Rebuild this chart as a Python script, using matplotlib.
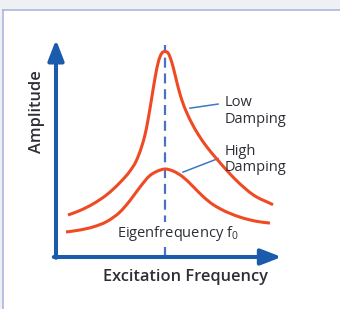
import matplotlib
matplotlib.use("Agg")
import numpy as np
import matplotlib.pyplot as plt
from matplotlib.patches import Rectangle, PathPatch
from matplotlib.path import Path
from matplotlib.lines import Line2D

plt.rcParams['font.family'] = ['Open Sans', 'DejaVu Sans']
plt.rcParams['mathtext.fontset'] = 'custom'
plt.rcParams['mathtext.rm'] = 'Open Sans'
plt.rcParams['mathtext.it'] = 'Open Sans:italic'

# ---- data (frequency ratio f/f0, amplitude in arbitrary units) ----
low_f = [0.110, 0.220, 0.339, 0.468, 0.587, 0.679, 0.734, 0.786, 0.817, 0.847,
         0.878, 0.908, 0.939, 0.970, 1.000, 1.030, 1.061, 1.092, 1.122, 1.153,
         1.199, 1.245, 1.306, 1.383, 1.474, 1.566, 1.658, 1.807, 1.991]
low_a = [1.024, 1.134, 1.293, 1.524, 1.817, 2.098, 2.332, 2.695, 2.985, 3.388,
         3.876, 4.359, 4.761, 4.968, 5.012, 4.968, 4.761, 4.446, 4.124, 3.841,
         3.524, 3.268, 2.985, 2.688, 2.395, 2.115, 1.859, 1.520, 1.276]
high_f = [0.092, 0.220, 0.339, 0.468, 0.587, 0.679, 0.771, 0.862, 0.927, 1.000,
          1.073, 1.165, 1.257, 1.349, 1.440, 1.505, 1.688, 1.844, 1.963]
high_a = [0.610, 0.659, 0.732, 0.868, 1.098, 1.378, 1.707, 1.988, 2.090, 2.146,
          2.098, 1.951, 1.720, 1.476, 1.280, 1.178, 0.973, 0.868, 0.827]
f0 = 1.0
x_label = "Excitation Frequency"
y_label = "Amplitude"
f0_label = "Eigenfrequency f$_\\mathrm{0}$"
low_label = ["Low", "Damping"]
high_label = ["High", "Damping"]

RED = "#ef4a23"
AXBLUE = "#1b5bab"
DASHBLUE = "#4a72c4"
LEADBLUE = "#3b78c6"
TXT = "#2e2e36"


def smooth_path(xs, ys):
    """Piecewise cubic Hermite curve y(x) through the points, as a Bezier path."""
    x = np.asarray(xs, float)
    y = np.asarray(ys, float)
    h = np.diff(x)
    s = np.diff(y) / h
    n = len(x)
    m = np.empty(n)
    m[0], m[-1] = s[0], s[-1]
    for i in range(1, n - 1):
        m[i] = (h[i] * s[i - 1] + h[i - 1] * s[i]) / (h[i - 1] + h[i])
    verts = [(x[0], y[0])]
    codes = [Path.MOVETO]
    for i in range(n - 1):
        d = h[i] / 3
        verts += [(x[i] + d, y[i] + m[i] * d),
                  (x[i + 1] - d, y[i + 1] - m[i + 1] * d),
                  (x[i + 1], y[i + 1])]
        codes += [Path.CURVE4] * 3
    return Path(verts, codes)


fig = plt.figure(figsize=(3.4, 3.09), dpi=100)
fig.patch.set_facecolor("white")

# frame decoration
fig.add_artist(Rectangle((0, 1 - 9 / 309), 1, 9 / 309, transform=fig.transFigure,
                         facecolor="#eef0f4", edgecolor="none"))
fig.add_artist(Rectangle((0, 0), 2 / 340, 1, transform=fig.transFigure,
                         facecolor="#eef0f4", edgecolor="none"))
fig.add_artist(Line2D([2.5 / 340, 1], [1 - 9.5 / 309, 1 - 9.5 / 309],
                      transform=fig.transFigure, color="#a9b6dc", lw=1.2))
fig.add_artist(Line2D([2.5 / 340, 2.5 / 340], [0, 1 - 9.5 / 309],
                      transform=fig.transFigure, color="#a9b6dc", lw=1.2))

ax = fig.add_axes([0, 0, 1, 1])
ax.set_xlim(-56 / 109, 284 / 109)
ax.set_ylim(-52 / 41, 257 / 41)
ax.axis("off")

# dashed eigenfrequency line
ax.plot([f0, f0], [0, 5.17], color=DASHBLUE, lw=1.6, dashes=(4.5, 2.6), zorder=1)

# curves
for xs, ys in ((low_f, low_a), (high_f, high_a)):
    ax.add_patch(PathPatch(smooth_path(xs, ys), facecolor="none", edgecolor=RED,
                           lw=2.2, capstyle="butt", zorder=3))

# axes arrows
ax.annotate("", xy=(0, 5.30), xytext=(0, -0.02),
            arrowprops=dict(arrowstyle="-|>,head_length=0.62,head_width=0.24",
                            mutation_scale=20, lw=2.9, color=AXBLUE,
                            shrinkA=0, shrinkB=0), zorder=4)
ax.annotate("", xy=(2.07, 0), xytext=(-0.02, 0),
            arrowprops=dict(arrowstyle="-|>,head_length=0.62,head_width=0.24",
                            mutation_scale=20, lw=2.9, color=AXBLUE,
                            shrinkA=0, shrinkB=0), zorder=4)

# labels
ax.text(1.183, -0.585, x_label, ha="center", va="baseline", fontsize=11.8,
        color=TXT, fontweight="semibold")
ax.text(-0.17, 3.54, y_label, ha="center", va="center", rotation=90,
        fontsize=11.8, color=TXT, fontweight="semibold")
ax.text(1.12, 0.49, f0_label, ha="center", va="baseline", fontsize=10.5,
        color=TXT, zorder=2,
        bbox=dict(facecolor="white", edgecolor="none", pad=1.5))

ax.text(1.55, 3.68, low_label[0], ha="left", va="baseline", fontsize=10.5, color=TXT)
ax.text(1.55, 3.26, low_label[1], ha="left", va="baseline", fontsize=10.5, color=TXT)
ax.text(1.55, 2.49, high_label[0], ha="left", va="baseline", fontsize=10.5, color=TXT)
ax.text(1.55, 2.09, high_label[1], ha="left", va="baseline", fontsize=10.5, color=TXT)

# leader lines
ax.plot([1.229, 1.486], [3.63, 3.73], color=LEADBLUE, lw=1.1, zorder=2)
ax.plot([1.165, 1.486], [2.07, 2.40], color=LEADBLUE, lw=1.1, zorder=2)

fig.savefig("out.png", dpi=100, facecolor=fig.get_facecolor())
